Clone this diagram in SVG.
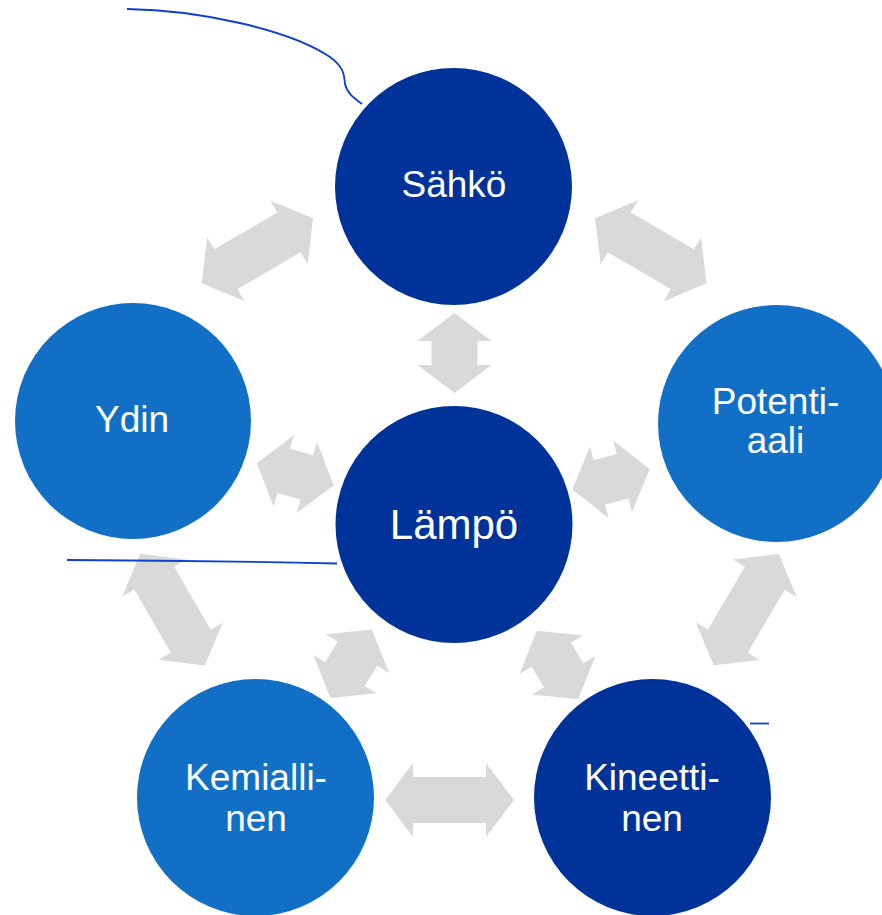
<svg xmlns="http://www.w3.org/2000/svg" xmlns:xlink="http://www.w3.org/1999/xlink" width="882" height="915" viewBox="0 0 882 915">
<style>
.dark{fill:#003399}
.light{fill:#1170C6}
.lbl{fill:#ffffff;font-family:"Liberation Sans",Arial,sans-serif;font-size:37px;text-anchor:middle}
.big{font-size:42px}
.arr{fill:#D9D9D9}
.ln{fill:none;stroke:#0d3fd0;stroke-width:1.8}
</style>
<defs>
<polygon id="longArrow" points="-64.5,0 -36.5,-37 -36.5,-23 36.5,-23 36.5,-37 64.5,0 36.5,37 36.5,23 -36.5,23 -36.5,37"/>
<polygon id="shortArrow" points="-40,0 -12,-37 -12,-23 12,-23 12,-37 40,0 12,37 12,23 -12,23 -12,37"/>
</defs>
<rect width="882" height="915" fill="#ffffff"/>
<g id="connectors" class="arr">
<use xlink:href="#shortArrow" href="#shortArrow" transform="translate(454.5,353) rotate(90)"/>
<use xlink:href="#longArrow" href="#longArrow" transform="translate(257.4,250.8) rotate(-30.3)"/>
<use xlink:href="#longArrow" href="#longArrow" transform="translate(650.8,250.8) rotate(30.2)"/>
<use xlink:href="#shortArrow" href="#shortArrow" transform="translate(295.3,474.2) rotate(15.9)"/>
<use xlink:href="#shortArrow" href="#shortArrow" transform="translate(611,479.3) rotate(-14.6)"/>
<use xlink:href="#longArrow" href="#longArrow" transform="translate(172.5,609.7) rotate(60)"/>
<use xlink:href="#shortArrow" href="#shortArrow" transform="translate(351.2,663.8) rotate(-58.8)"/>
<use xlink:href="#shortArrow" href="#shortArrow" transform="translate(557.5,665) rotate(58.8)"/>
<use xlink:href="#longArrow" href="#longArrow" transform="translate(746.3,609.7) rotate(-59.6)"/>
<use xlink:href="#longArrow" href="#longArrow" transform="translate(449.5,800)"/>
</g>
<g id="sahko">
<circle class="dark" cx="453.5" cy="186.5" r="118.5"/>
<text class="lbl" x="454" y="197">Sähkö</text>
</g>
<g id="ydin">
<circle class="light" cx="133" cy="421" r="118"/>
<text class="lbl" x="132" y="432">Ydin</text>
</g>
<g id="potentiaali">
<circle class="light" cx="776.5" cy="423.5" r="118.5"/>
<text class="lbl" x="775.5" y="414">Potenti-</text>
<text class="lbl" x="775.5" y="453">aali</text>
</g>
<g id="lampo">
<circle class="dark" cx="454" cy="524.5" r="118.5"/>
<text class="lbl big" x="454" y="539">Lämpö</text>
</g>
<g id="kemiallinen">
<circle class="light" cx="255.5" cy="797.5" r="118.5"/>
<text class="lbl" x="256" y="790">Kemialli-</text>
<text class="lbl" x="256" y="831">nen</text>
</g>
<g id="kineettinen">
<circle class="dark" cx="652.5" cy="797.5" r="118.5"/>
<text class="lbl" x="652" y="790">Kineetti-</text>
<text class="lbl" x="652" y="831">nen</text>
</g>
<g id="lines">
<path class="ln" d="M127,9 C200,10 290,30 330,57 C345,68 344,76 345,84 C347,93 354,98 362,104"/>
<path class="ln" d="M67,560 Q200,560.5 337,563.5"/>
<path class="ln" d="M750,723.5 L769,723.5"/>
</g>
</svg>
